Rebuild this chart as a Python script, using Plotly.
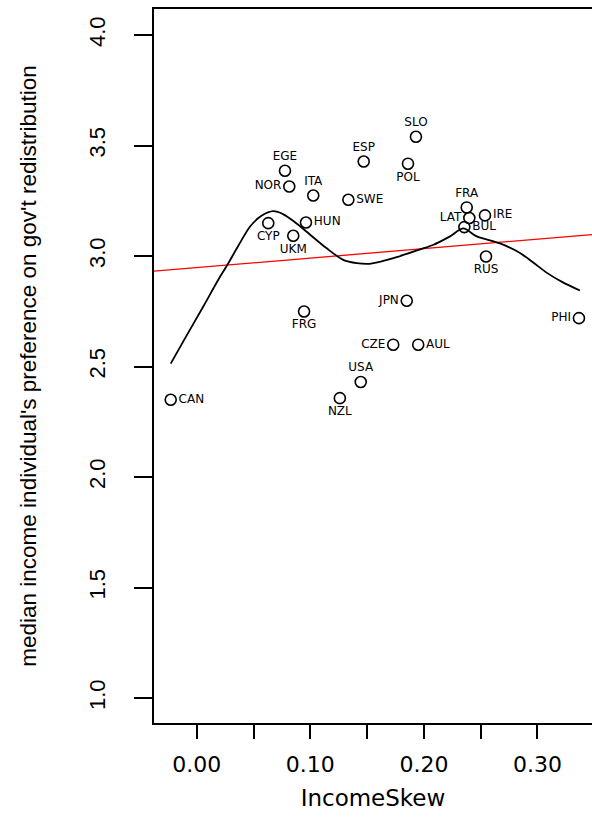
import plotly.graph_objects as go

# ---- data ----
countries = ["CAN", "CYP", "UKM", "HUN", "NOR", "EGE", "ITA", "FRG", "SWE", "USA",
             "NZL", "ESP", "CZE", "JPN", "POL", "SLO", "AUL", "BUL", "FRA", "LAT",
             "IRE", "RUS", "PHI"]
income_skew = [-0.0229, 0.0630, 0.0850, 0.0962, 0.0815, 0.0777, 0.1026, 0.0945, 0.1335, 0.1444,
               0.1260, 0.1470, 0.1730, 0.1849, 0.1860, 0.1930, 0.1950, 0.2356, 0.2377, 0.2400,
               0.2538, 0.2547, 0.3365]
preference = [2.350, 3.149, 3.092, 3.152, 3.315, 3.386, 3.274, 2.749, 3.255, 2.430,
              2.357, 3.428, 2.599, 2.798, 3.418, 3.540, 2.599, 3.131, 3.220, 3.172,
              3.184, 2.998, 2.719]
label_pos = ["right", "bottom", "bottom", "right", "left", "top", "top", "bottom", "right", "top",
             "bottom", "top", "left", "left", "bottom", "top", "right", "right", "top", "left",
             "right", "bottom", "left"]

smooth_x = [-0.0229, -0.0118, 0.0058, 0.0190, 0.0264, 0.0370, 0.0470, 0.0570, 0.0674, 0.0760,
            0.0860, 0.0968, 0.1144, 0.1290, 0.1410, 0.1520, 0.1613, 0.1760, 0.1966, 0.2080,
            0.2230, 0.2347, 0.2465, 0.2670, 0.2846, 0.2960, 0.3080, 0.3220, 0.3374]
smooth_y = [2.513, 2.614, 2.772, 2.893, 2.955, 3.050, 3.134, 3.182, 3.203, 3.190,
            3.155, 3.110, 3.035, 2.983, 2.968, 2.965, 2.974, 2.995, 3.030, 3.050,
            3.089, 3.125, 3.089, 3.057, 3.014, 2.972, 2.925, 2.882, 2.844]

fit_intercept = 2.948
fit_slope = 0.428

x_range = [-0.0376, 0.348]
y_range = [0.887, 4.118]
x_tickvals = [0.00, 0.05, 0.10, 0.15, 0.20, 0.25, 0.30]
x_ticktext = ["0.00", "", "0.10", "", "0.20", "", "0.30"]
y_tickvals = [1.0, 1.5, 2.0, 2.5, 3.0, 3.5, 4.0]
y_ticktext = ["1.0", "1.5", "2.0", "2.5", "3.0", "3.5", "4.0"]

pos_map = {"top": "top center", "bottom": "bottom center",
           "left": "middle left", "right": "middle right"}

fig = go.Figure()

# regression line (abline)
fig.add_trace(go.Scatter(
    x=x_range, y=[fit_intercept + fit_slope * v for v in x_range],
    mode="lines", line=dict(color="#FF0000", width=1.3),
    hoverinfo="skip", showlegend=False))

# smoother
fig.add_trace(go.Scatter(
    x=smooth_x, y=smooth_y, mode="lines",
    line=dict(color="black", width=1.8, shape="spline", smoothing=0.8),
    hoverinfo="skip", showlegend=False))

# points with labels
fig.add_trace(go.Scatter(
    x=income_skew, y=preference, mode="markers+text",
    text=countries, textposition=[pos_map[p] for p in label_pos],
    textfont=dict(family="DejaVu Sans", size=12, color="black"),
    marker=dict(symbol="circle-open", size=11, color="black", line=dict(width=1.6)),
    showlegend=False, cliponaxis=False))

fig.update_layout(
    width=592, height=836,
    margin=dict(l=154, r=0, t=9, b=113),
    paper_bgcolor="white", plot_bgcolor="white",
    showlegend=False,
    xaxis=dict(
        range=x_range, tickmode="array", tickvals=x_tickvals, ticktext=x_ticktext,
        ticks="outside", ticklen=14, tickwidth=1.5, tickcolor="black",
        showline=True, linecolor="black", linewidth=1.5, mirror=True,
        showgrid=False, zeroline=False,
        tickfont=dict(family="DejaVu Sans", size=22, color="black"),
        ticklabelstandoff=7,
        title=dict(text="IncomeSkew", font=dict(family="DejaVu Sans", size=23, color="black"),
                   standoff=14),
    ),
    yaxis=dict(
        range=y_range, tickmode="array", tickvals=y_tickvals, ticktext=y_ticktext,
        ticks="outside", ticklen=18, tickwidth=1.5, tickcolor="black",
        showline=True, linecolor="black", linewidth=2, mirror=False,
        showgrid=False, zeroline=False, tickangle=-90,
        tickfont=dict(family="Liberation Sans", size=22, color="black"),
        ticklabelstandoff=20,
        title=dict(text="median income individual's preference on gov't redistribution",
                   font=dict(family="Liberation Sans", size=22.5, color="black"),
                   standoff=42),
    ),
)

fig.write_html("out.html")
